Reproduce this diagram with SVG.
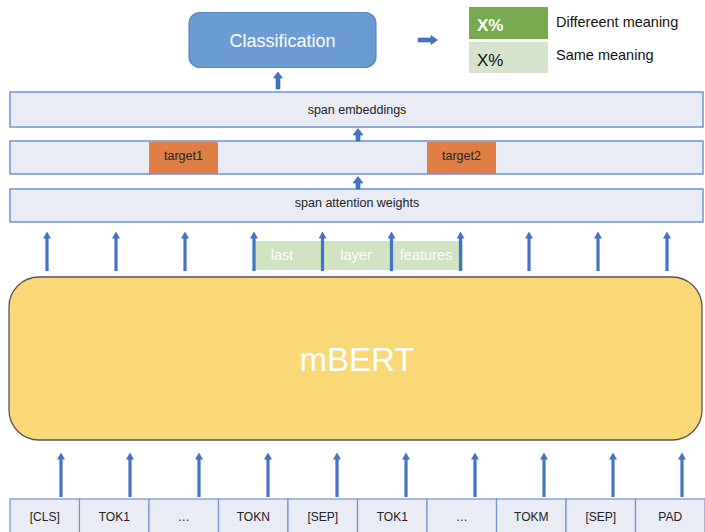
<svg xmlns="http://www.w3.org/2000/svg" width="705" height="532" viewBox="0 0 705 532">
<defs>
<marker id="ah" markerUnits="userSpaceOnUse" markerWidth="7" markerHeight="8" refX="1.5" refY="4" orient="auto" viewBox="0 0 7 8"><path d="M0,0 L7,4 L0,8 Z" fill="#4472c4"/></marker>
</defs>
<style>
.bar{fill:#e9ebf5;stroke:#7393d0;stroke-width:1.5}
.t{font-family:"Liberation Sans",Arial,sans-serif}
.ln{stroke:#4472c4;stroke-width:3.2;fill:none}
.blk{fill:#4472c4;stroke:#3a62aa;stroke-width:0.6}
.tok{fill:#e9ebf5;stroke:#7393d0;stroke-width:1.2}
.tt{font-family:"Liberation Sans",Arial,sans-serif;font-size:12px;fill:#222;text-anchor:middle}
</style>
<rect width="705" height="532" fill="#ffffff"/>

<g id="classification">
<rect x="189" y="12.5" width="187" height="55" rx="11" fill="#6a9bd2" stroke="#5b87c2" stroke-width="1.2"/>
<text class="t" x="282.5" y="47" font-size="18" fill="#ffffff" text-anchor="middle">Classification</text>
</g>

<g id="legend">
<rect x="469" y="7" width="79" height="32" fill="#77a94f"/>
<text class="t" x="477" y="31" font-size="17" font-weight="bold" fill="#ffffff">X%</text>
<rect x="469" y="42" width="79" height="31" fill="#d6e4cd"/>
<text class="t" x="477" y="66" font-size="17" fill="#111">X%</text>
<text class="t" x="556" y="27" font-size="14.5" fill="#111">Differeent meaning</text>
<text class="t" x="556" y="60" font-size="14.5" fill="#111">Same meaning</text>
</g>

<g id="span-embeddings">
<rect class="bar" x="10" y="92" width="693" height="35"/>
<text class="t" x="357" y="114" font-size="12.5" fill="#222" text-anchor="middle">span embeddings</text>
</g>

<g id="targets-row">
<rect class="bar" x="10" y="141" width="693" height="33"/>
<g id="target1">
<rect x="149" y="142" width="69" height="32" fill="#e07f45"/>
<text class="t" x="183.5" y="160" font-size="12.5" fill="#222" text-anchor="middle">target1</text>
</g>
<g id="target2">
<rect x="427" y="142" width="69" height="32" fill="#e07f45"/>
<text class="t" x="461.5" y="160" font-size="12.5" fill="#222" text-anchor="middle">target2</text>
</g>
</g>

<g id="span-attention-weights">
<rect class="bar" x="10" y="189" width="693" height="33"/>
<text class="t" x="357" y="207" font-size="12.5" fill="#222" text-anchor="middle">span attention weights</text>
</g>

<g id="last-layer-features">
<rect x="254" y="241" width="209" height="29" fill="#d0e3c3"/>
<text class="t" x="282" y="260" font-size="14.5" fill="#ffffff" text-anchor="middle">last</text>
<text class="t" x="356" y="260" font-size="14.5" fill="#ffffff" text-anchor="middle">layer</text>
<text class="t" x="426" y="260" font-size="14.5" fill="#ffffff" text-anchor="middle">features</text>
</g>

<g id="mbert">
<rect x="9" y="277" width="693" height="163" rx="30" fill="#f9d878" stroke="#555555" stroke-width="1.3"/>
<text class="t" x="357" y="371" font-size="33" fill="#ffffff" text-anchor="middle">mBERT</text>
</g>

<g id="tokens">
<rect class="tok" x="10" y="499" width="69.5" height="34"/>
<rect class="tok" x="79.5" y="499" width="69.5" height="34"/>
<rect class="tok" x="149" y="499" width="69.5" height="34"/>
<rect class="tok" x="218.5" y="499" width="69.5" height="34"/>
<rect class="tok" x="288" y="499" width="69.5" height="34"/>
<rect class="tok" x="357.5" y="499" width="69.5" height="34"/>
<rect class="tok" x="427" y="499" width="69.5" height="34"/>
<rect class="tok" x="496.5" y="499" width="69.5" height="34"/>
<rect class="tok" x="566" y="499" width="69.5" height="34"/>
<rect class="tok" x="635.5" y="499" width="69.5" height="34"/>
<text class="tt" x="44.75" y="521">[CLS]</text>
<text class="tt" x="114.25" y="521">TOK1</text>
<text class="tt" x="183.75" y="521">…</text>
<text class="tt" x="253.25" y="521">TOKN</text>
<text class="tt" x="322.75" y="521">[SEP]</text>
<text class="tt" x="392.25" y="521">TOK1</text>
<text class="tt" x="461.75" y="521">…</text>
<text class="tt" x="531.25" y="521">TOKM</text>
<text class="tt" x="600.75" y="521">[SEP]</text>
<text class="tt" x="670.25" y="521">PAD</text>
</g>

<g id="connectors">
<path class="blk" d="M276,89 L276,78 L273.5,78 L278,72 L282.5,78 L280,78 L280,89 Z"/>
<path class="blk" d="M418,38 L431,38 L431,35.5 L437.5,40 L431,44.5 L431,42 L418,42 Z"/>
<path class="blk" d="M356,141 L356,135 L353,135 L358,128.5 L363,135 L360,135 L360,141 Z"/>
<path class="blk" d="M356,189 L356,183 L353,183 L358,176.5 L363,183 L360,183 L360,189 Z"/>
<g marker-end="url(#ah)">
<line class="ln" x1="47" y1="271" x2="47" y2="237"/>
<line class="ln" x1="116" y1="271" x2="116" y2="237"/>
<line class="ln" x1="185" y1="271" x2="185" y2="237"/>
<line class="ln" x1="254" y1="271" x2="254" y2="237"/>
<line class="ln" x1="322.5" y1="271" x2="322.5" y2="237"/>
<line class="ln" x1="391.5" y1="271" x2="391.5" y2="237"/>
<line class="ln" x1="460.5" y1="271" x2="460.5" y2="237"/>
<line class="ln" x1="529" y1="271" x2="529" y2="237"/>
<line class="ln" x1="598" y1="271" x2="598" y2="237"/>
<line class="ln" x1="667" y1="271" x2="667" y2="237"/>
<line class="ln" x1="61" y1="497" x2="61" y2="458"/>
<line class="ln" x1="130" y1="497" x2="130" y2="458"/>
<line class="ln" x1="199" y1="497" x2="199" y2="458"/>
<line class="ln" x1="268" y1="497" x2="268" y2="458"/>
<line class="ln" x1="337" y1="497" x2="337" y2="458"/>
<line class="ln" x1="406" y1="497" x2="406" y2="458"/>
<line class="ln" x1="475" y1="497" x2="475" y2="458"/>
<line class="ln" x1="544" y1="497" x2="544" y2="458"/>
<line class="ln" x1="613" y1="497" x2="613" y2="458"/>
<line class="ln" x1="682" y1="497" x2="682" y2="458"/>
</g>
</g>
</svg>
